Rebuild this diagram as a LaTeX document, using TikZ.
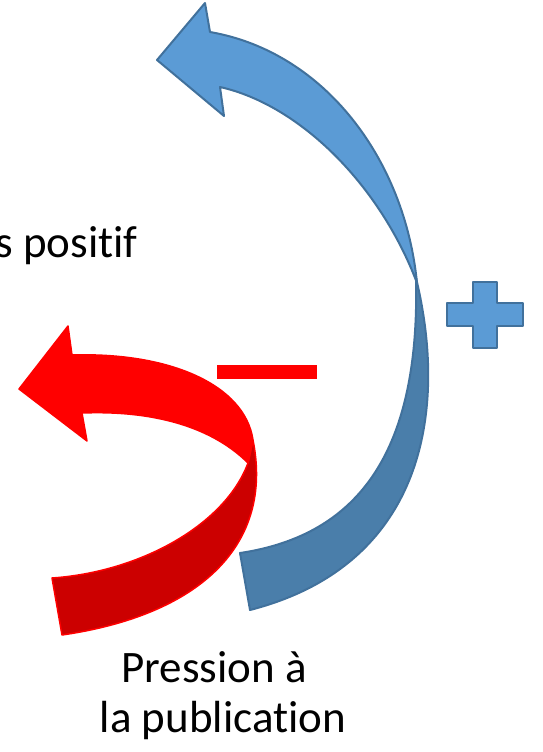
\documentclass[tikz,border=0pt]{standalone}
\usepackage{fontspec}
\setmainfont{Carlito}[Ligatures={NoCommon}]
\newcommand{\nolig}{\kern0pt\relax}
\definecolor{bluefront}{RGB}{91,155,213}
\definecolor{blueback}{RGB}{74,126,170}
\definecolor{blueline}{RGB}{65,113,156}
\definecolor{redback}{RGB}{204,0,0}
\tikzset{
  bfront/.style={fill=bluefront,draw=blueline,line width=2pt,line join=round},
  bback/.style={fill=blueback,draw=blueline,line width=2pt,line join=round},
  rfront/.style={fill=red,draw=red,line width=1.5pt,line join=round},
  rback/.style={fill=redback,draw=red,line width=1.5pt,line join=round},
  lbl/.style={font=\fontsize{45}{50}\selectfont,inner sep=0pt,text=black}
}
\begin{document}
\begin{tikzpicture}[x=1pt,y=-1pt]
\useasboundingbox (0,0) rectangle (542,752);
\clip (0,0) rectangle (542,752);
% blue arrow: back (lower) band
\path[bback] (416,278) .. controls (420,450) and (360,535) .. (240,553)
  -- (250,610) .. controls (425,565) and (448,410) .. (416,278) -- cycle;
% blue arrow: front (upper) band with head
\path[bfront] (157,60) -- (205,3) -- (210,32)
  .. controls (325,52) and (405,160) .. (417,283)
  .. controls (380,185) and (300,105) .. (220,87)
  -- (224,116) -- cycle;
% plus sign
\path[bfront] (473,282) -- (497,282) -- (497,303) -- (523,303) -- (523,326) -- (497,326) -- (497,348) -- (473,348) -- (473,326) -- (447,326) -- (447,303) -- (473,303) -- cycle;
% red arrow: back (lower) band
\path[rback] (253,440) .. controls (274,545) and (200,615) .. (62,635)
  -- (52,578) .. controls (140,572) and (225,525) .. (248,463) -- cycle;
% red arrow: front (upper) band with head
\path[rfront] (19,389) -- (68,326) -- (72,355)
  .. controls (170,352) and (245,385) .. (253,440)
  -- (248,463)
  .. controls (215,430) and (160,410) .. (82,413)
  -- (87,441) -- cycle;
% minus sign
\fill[red] (217,365) rectangle (317,379);
% labels
\node[lbl,anchor=base east] (positif) at (138,257) {s posit\nolig if};
\node[lbl,anchor=base] (pression) at (214,682) {Pression à};
\node[lbl,anchor=base] (publication) at (223,732) {la publicat\nolig ion};
\end{tikzpicture}
\end{document}
